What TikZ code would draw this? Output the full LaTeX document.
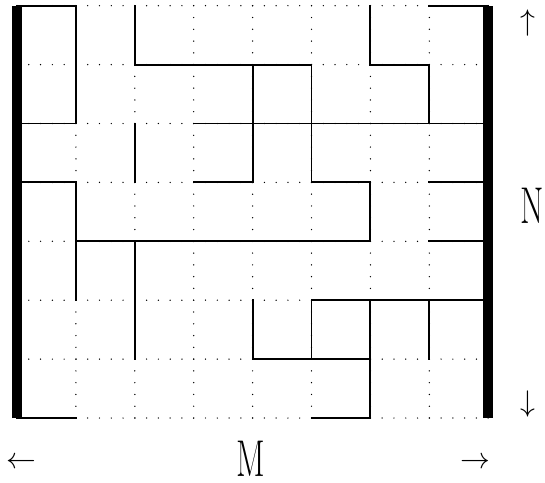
\documentclass[tikz,border=0pt]{standalone}
\newcommand{\narrowletter}[1]{\scalebox{0.65}[1]{#1}}
\begin{document}
\begin{tikzpicture}[x=1cm,y=1cm,every node/.style={inner sep=0pt},
    dotline/.style={line width=0.7pt,line cap=round,dash pattern=on 0pt off 0.2cm},
    wall/.style={line width=0.9pt,line cap=rect},
    bar/.style={line width=4.8pt},
    letter/.style={font=\fontsize{25}{25}\selectfont},
    arrowsym/.style={font=\fontsize{14}{14}\selectfont}]
  \useasboundingbox (-0.289,-1.087) rectangle (8.964,7.097);
  % dotted grid
  \foreach \y in {0,...,7}
    \draw[dotline] (0,\y) -- (8,\y);
  \foreach \x in {1,...,7}
    \draw[dotline] (\x,0) -- (\x,7);
  % horizontal walls
  \foreach \y/\a/\b in {7/0/1,7/7/8,6/2/5,6/6/7,5/0/1,5/3/8,4/0/1,4/3/4,4/5/6,4/7/8,
                        3/1/6,3/7/8,2/5/8,1/4/6,0/0/1,0/5/6}
    \draw[wall] (\a,\y) -- (\b,\y);
  % vertical walls
  \foreach \x/\a/\b in {1/5/7,1/2/4,2/6/7,2/4/5,2/1/3,4/4/6,4/1/2,5/4/6,5/1/2,
                        6/6/7,6/3/4,6/0/2,7/5/6,7/1/2}
    \draw[wall] (\x,\a) -- (\x,\b);
  % side bars
  \draw[bar] (0,0) -- (0,7);
  \draw[bar] (8,0) -- (8,7);
  % labels
  \node[letter,anchor=base] (nlabel) at (8.75,3.295) {\narrowletter{N}};
  \node[letter,anchor=base] (mlabel) at (3.97,-1.0) {\narrowletter{M}};
  \node[arrowsym] (uparr) at (8.676,6.71) {$\uparrow$};
  \node[arrowsym] (downarr) at (8.676,0.238) {$\downarrow$};
  \node[arrowsym] (leftarr) at (0.068,-0.764) {$\leftarrow$};
  \node[arrowsym] (rightarr) at (7.79,-0.764) {$\rightarrow$};
\end{tikzpicture}
\end{document}
